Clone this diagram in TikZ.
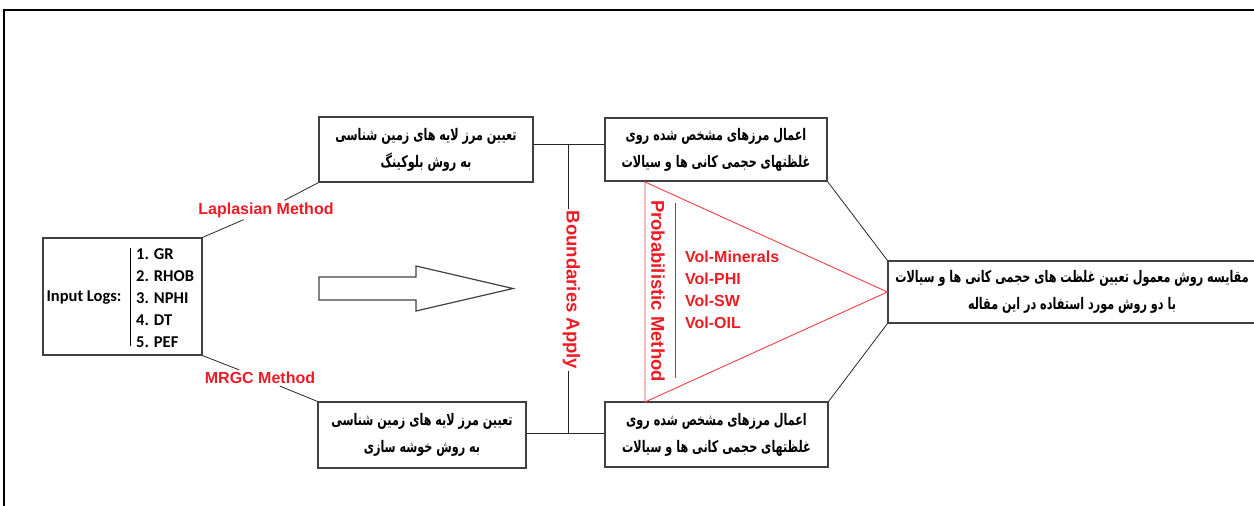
\documentclass[tikz,border=0pt]{standalone}
\usepackage{fontspec}
\setmainfont{Carlito}
\newfontfamily\arfont[Script=Arabic, FakeStretch=0.7]{DejaVu Sans}
\newfontfamily\redfont{Liberation Sans}
\TeXXeTstate=1
\definecolor{lblred}{RGB}{237,28,36}
\definecolor{trired}{RGB}{240,60,70}
\begin{document}
\begin{tikzpicture}[x=1pt,y=-1pt,
  box/.style={draw=black!75, line width=1.2pt, rectangle, inner sep=0pt},
  fa/.style={font=\arfont\bfseries\fontsize{16}{27}\selectfont, align=center},
  lbl/.style={text=lblred, font=\redfont\bfseries\fontsize{16}{22}\selectfont, inner sep=2pt},
  vlbl/.style={lbl, rotate=-90, font=\redfont\bfseries\fontsize{18.5}{22}\selectfont},
  conn/.style={draw=black!85, line width=0.8pt},
  en/.style={font=\bfseries\fontsize{16.5}{22}\selectfont, inner sep=0pt}]
\useasboundingbox (0,0) rectangle (1254,506);
% outer frame
\draw[line width=2.2pt] (4,508) -- (4,10) -- (1258,10);

% boxes
\node[box, fa, minimum width=159pt, minimum height=117pt] (inp) at (122.5,296.5) {};
\node[en, anchor=center] (inlbl) at (84,298) {Input Logs:};
\node[en, anchor=west, align=left] (inlist) at (136,298) {1. GR\\2. RHOB\\3. NPHI\\4. DT\\5. PEF};
\draw[line width=1pt] (130,248) -- (130,346);

\node[box, fa, minimum width=214pt, minimum height=65pt] (blk) at (426,149.5)
  {\beginR تعیین مرز لایه های زمین شناسی\endR\\\beginR به روش بلوکینگ\endR};
\node[box, fa, minimum width=208pt, minimum height=66pt] (clu) at (422,435)
  {\beginR تعیین مرز لایه های زمین شناسی\endR\\\beginR به روش خوشه سازی\endR};
\node[box, fa, minimum width=222pt, minimum height=63pt] (ap1) at (716,149.5)
  {\beginR اعمال مرزهای مشخص شده روی\endR\\\beginR غلظتهای حجمی کانی ها و سیالات\endR};
\node[box, fa, minimum width=223pt, minimum height=65pt] (ap2) at (716.5,434.5)
  {\beginR اعمال مرزهای مشخص شده روی\endR\\\beginR غلظتهای حجمی کانی ها و سیالات\endR};
\node[box, fa, minimum width=368pt, minimum height=62pt] (cmp) at (1072,292)
  {\beginR مقایسه روش معمول تعیین غلظت های حجمی کانی ها و سیالات\endR\\\beginR با دو روش مورد استفاده در این مقاله\endR};

% labels
\node[lbl] (lap) at (266,210) {Laplasian Method};
\node[lbl] (mrgc) at (260,378) {MRGC Method};
\node[vlbl] (ba) at (571.5,290) {Boundaries Apply};
\node[vlbl] (pm) at (658,291) {Probabilistic Method};
\node[lbl, anchor=north west, align=left, inner sep=0pt] (vols) at (685,251)
  {Vol-Minerals\\Vol-PHI\\Vol-SW\\Vol-OIL};

% connectors
\draw[conn] (inp.north east) -- (lap);
\draw[conn] (lap) -- (blk.south west);
\draw[conn] (inp.south east) -- (mrgc);
\draw[conn] (mrgc) -- (clu.north west);

\coordinate (tj) at (568,144);
\coordinate (bj) at (568,433);
\draw[conn] (blk.east |- tj) -- (ap1.west |- tj);
\draw[conn] (clu.east |- bj) -- (ap2.west |- bj);
\draw[conn] (tj) -- (tj |- ba.west);
\draw[conn] (tj |- ba.east) -- (bj);

\draw[conn] (ap1.south east) -- (cmp.north west);
\draw[conn] (ap2.north east) -- (cmp.south west);

% red triangle and bar
\draw[trired, line width=0.9pt] (645,182) -- (cmp.west) -- (645,402) -- cycle;
\draw[lblred, line width=1pt] (675,203) -- (675,378);

% hollow arrow
\draw[black!75, line width=1.2pt, line join=miter]
  (319,277) -- (416,277) -- (416,266) -- (513,288.5) -- (416,311) -- (416,300) -- (319,300) -- cycle;
\end{tikzpicture}
\end{document}
